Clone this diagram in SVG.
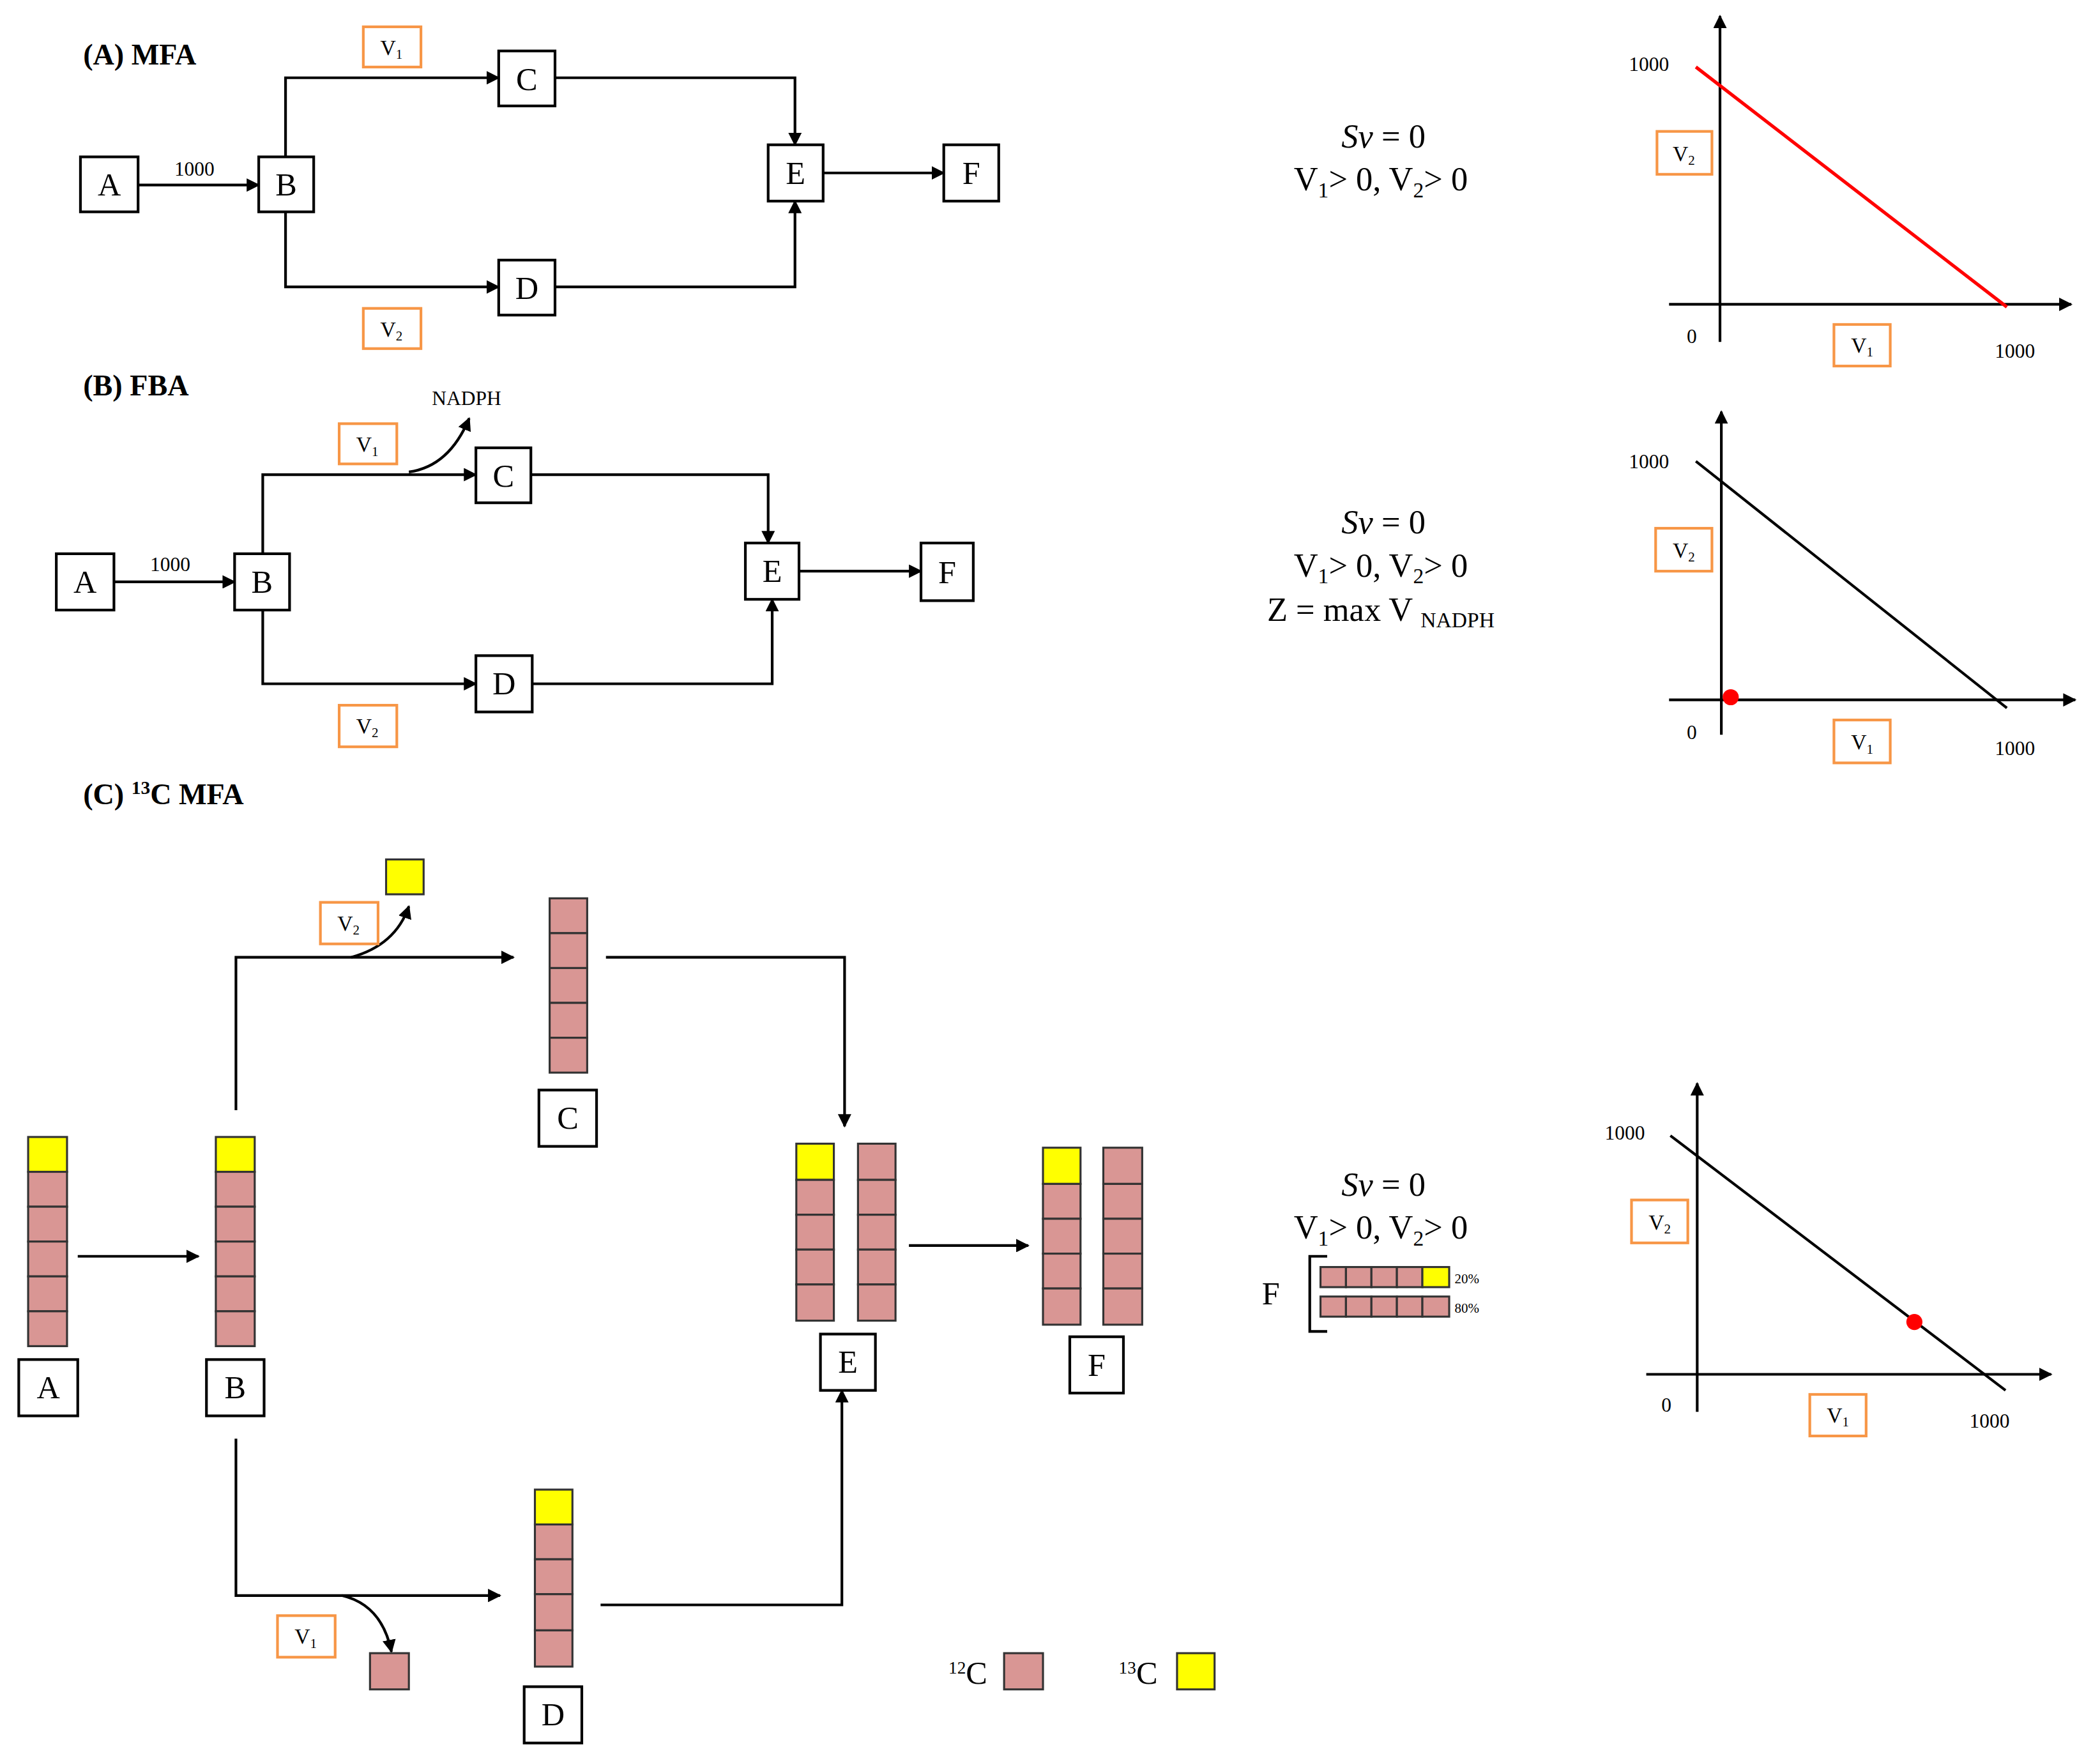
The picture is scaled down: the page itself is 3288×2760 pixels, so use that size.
<svg xmlns="http://www.w3.org/2000/svg" width="3288" height="2760" viewBox="0 0 3288 2760">
<defs>
<marker id="ah2" viewBox="0 0 10 10" refX="9" refY="5" markerWidth="5" markerHeight="5" orient="auto"><path d="M0,0 L10,5 L0,10 Z" fill="#000"/></marker>
<style>
.n{fill:#fff;stroke:#000;stroke-width:2}
.nt{font-family:"Liberation Serif",serif;font-size:24px;text-anchor:middle}
.ob{fill:#fff;stroke:#f79646;stroke-width:2}
.ot{font-family:"Liberation Serif",serif;font-size:16px;text-anchor:middle}
.c{fill:none;stroke:#000;stroke-width:2;marker-end:url(#ah2)}
.ln{fill:none;stroke:#000;stroke-width:2}
.ttl{font-family:"Liberation Serif",serif;font-size:22px;font-weight:bold}
.sm{font-family:"Liberation Serif",serif;font-size:15px}
.eq{font-family:"Liberation Serif",serif;font-size:25px;text-anchor:middle}
.pk{fill:#d99694;stroke:#333;stroke-width:1.5}
.yl{fill:#ffff00;stroke:#333;stroke-width:1.5}
</style>
</defs>
<rect width="3288" height="2760" fill="#fff"/>
<g transform="scale(2.099)">
<g id="titles">
<text class="ttl" x="62" y="48">(A) MFA</text>
<text class="ttl" x="62" y="295">(B) FBA</text>
<text class="ttl" x="62" y="600">(C) <tspan font-size="14" dy="-8">13</tspan><tspan dy="8">C MFA</tspan></text>
</g>
<g id="connectors">
<path class="c" d="M103,138 H193"/>
<path class="c" d="M213,117 V58 H372"/>
<path class="c" d="M213,158 V214 H372"/>
<path class="c" d="M414,58 H593 V108"/>
<path class="c" d="M414,214 H593 V150"/>
<path class="c" d="M614,129 H704"/>
<path class="c" d="M85,434 H175"/>
<path class="c" d="M196,413 V354 H355"/>
<path class="c" d="M196,455 V510 H355"/>
<path class="c" d="M396,354 H573 V405"/>
<path class="c" d="M397,510 H576 V447"/>
<path class="c" d="M596,426 H687"/>
<path class="c" d="M305,352 Q335,348 350,312"/>
<path class="c" d="M58,937 H148"/>
<path class="c" d="M176,828 V714 H383"/>
<path class="c" d="M176,1073 V1190 H373"/>
<path class="c" d="M452,714 H630 V840"/>
<path class="c" d="M448,1197 H628 V1037"/>
<path class="c" d="M678,929 H767"/>
<path class="c" d="M262,714 Q295,705 305,676"/>
<path class="c" d="M255,1190 Q285,1197 292,1232"/>
</g>
<g id="nodes">
<g id="mfaA"><rect class="n" x="60" y="117" width="43" height="41"/><text class="nt" x="81.5" y="146">A</text></g>
<g id="mfaB"><rect class="n" x="193" y="117" width="41" height="41"/><text class="nt" x="213.5" y="146">B</text></g>
<g id="mfaC"><rect class="n" x="372" y="38" width="42" height="41"/><text class="nt" x="393" y="67">C</text></g>
<g id="mfaD"><rect class="n" x="372" y="194" width="42" height="41"/><text class="nt" x="393" y="223">D</text></g>
<g id="mfaE"><rect class="n" x="573" y="108" width="41" height="42"/><text class="nt" x="593.5" y="137">E</text></g>
<g id="mfaF"><rect class="n" x="704" y="108" width="41" height="42"/><text class="nt" x="724.5" y="137">F</text></g>
<text class="sm" x="145" y="131" text-anchor="middle">1000</text>
<g id="mfaV1"><rect class="ob" x="271" y="20" width="43" height="30"/><text class="ot" x="292" y="41">V<tspan font-size="10" dy="3">1</tspan></text></g>
<g id="mfaV2"><rect class="ob" x="271" y="230" width="43" height="30"/><text class="ot" x="292" y="251">V<tspan font-size="10" dy="3">2</tspan></text></g>

<g id="fbaA"><rect class="n" x="42" y="413" width="43" height="42"/><text class="nt" x="63.5" y="442">A</text></g>
<g id="fbaB"><rect class="n" x="175" y="413" width="41" height="42"/><text class="nt" x="195.5" y="442">B</text></g>
<g id="fbaC"><rect class="n" x="355" y="334" width="41" height="41"/><text class="nt" x="375.5" y="363">C</text></g>
<g id="fbaD"><rect class="n" x="355" y="489" width="42" height="42"/><text class="nt" x="376" y="518">D</text></g>
<g id="fbaE"><rect class="n" x="556" y="405" width="40" height="42"/><text class="nt" x="576" y="434">E</text></g>
<g id="fbaF"><rect class="n" x="687" y="405" width="39" height="43"/><text class="nt" x="706.5" y="435">F</text></g>
<text class="sm" x="127" y="426" text-anchor="middle">1000</text>
<text class="sm" x="348" y="302" text-anchor="middle">NADPH</text>
<g id="fbaV1"><rect class="ob" x="253" y="316" width="43" height="30"/><text class="ot" x="274" y="337">V<tspan font-size="10" dy="3">1</tspan></text></g>
<g id="fbaV2"><rect class="ob" x="253" y="526" width="43" height="31"/><text class="ot" x="274" y="547">V<tspan font-size="10" dy="3">2</tspan></text></g>

<g id="c13A">
<rect class="yl" x="21" y="848" width="29" height="26"/>
<rect class="pk" x="21" y="874" width="29" height="26"/><rect class="pk" x="21" y="900" width="29" height="26"/><rect class="pk" x="21" y="926" width="29" height="26"/><rect class="pk" x="21" y="952" width="29" height="26"/><rect class="pk" x="21" y="978" width="29" height="26"/>
<rect class="n" x="14" y="1014" width="44" height="42"/><text class="nt" x="36" y="1043">A</text></g>
<g id="c13B">
<rect class="yl" x="161" y="848" width="29" height="26"/>
<rect class="pk" x="161" y="874" width="29" height="26"/><rect class="pk" x="161" y="900" width="29" height="26"/><rect class="pk" x="161" y="926" width="29" height="26"/><rect class="pk" x="161" y="952" width="29" height="26"/><rect class="pk" x="161" y="978" width="29" height="26"/>
<rect class="n" x="154" y="1014" width="43" height="42"/><text class="nt" x="175.5" y="1043">B</text></g>
<g id="c13C">
<rect class="pk" x="410" y="670" width="28" height="26"/><rect class="pk" x="410" y="696" width="28" height="26"/><rect class="pk" x="410" y="722" width="28" height="26"/><rect class="pk" x="410" y="748" width="28" height="26"/><rect class="pk" x="410" y="774" width="28" height="26"/>
<rect class="n" x="402" y="813" width="43" height="42"/><text class="nt" x="423.5" y="842">C</text></g>
<g id="c13D">
<rect class="yl" x="399" y="1111" width="28" height="26"/>
<rect class="pk" x="399" y="1137" width="28" height="26"/><rect class="pk" x="399" y="1163" width="28" height="26"/><rect class="pk" x="399" y="1189" width="28" height="27"/><rect class="pk" x="399" y="1216" width="28" height="27"/>
<rect class="n" x="391" y="1258" width="43" height="42"/><text class="nt" x="412.5" y="1287">D</text></g>
<g id="c13E">
<rect class="yl" x="594" y="853" width="28" height="27"/>
<rect class="pk" x="594" y="880" width="28" height="26"/><rect class="pk" x="594" y="906" width="28" height="26"/><rect class="pk" x="594" y="932" width="28" height="26"/><rect class="pk" x="594" y="958" width="28" height="27"/>
<rect class="pk" x="640" y="853" width="28" height="27"/><rect class="pk" x="640" y="880" width="28" height="26"/><rect class="pk" x="640" y="906" width="28" height="26"/><rect class="pk" x="640" y="932" width="28" height="26"/><rect class="pk" x="640" y="958" width="28" height="27"/>
<rect class="n" x="612" y="995" width="41" height="42"/><text class="nt" x="632.5" y="1024">E</text></g>
<g id="c13F">
<rect class="yl" x="778" y="856" width="28" height="27"/>
<rect class="pk" x="778" y="883" width="28" height="26"/><rect class="pk" x="778" y="909" width="28" height="26"/><rect class="pk" x="778" y="935" width="28" height="26"/><rect class="pk" x="778" y="961" width="28" height="27"/>
<rect class="pk" x="823" y="856" width="29" height="27"/><rect class="pk" x="823" y="883" width="29" height="26"/><rect class="pk" x="823" y="909" width="29" height="26"/><rect class="pk" x="823" y="935" width="29" height="26"/><rect class="pk" x="823" y="961" width="29" height="27"/>
<rect class="n" x="798" y="997" width="40" height="42"/><text class="nt" x="818" y="1026">F</text></g>
<g id="c13V2"><rect class="ob" x="239" y="673" width="43" height="31"/><text class="ot" x="260" y="694">V<tspan font-size="10" dy="3">2</tspan></text></g>
<rect class="yl" x="288" y="641" width="28" height="26"/>
<g id="c13V1"><rect class="ob" x="207" y="1205" width="43" height="31"/><text class="ot" x="228" y="1226">V<tspan font-size="10" dy="3">1</tspan></text></g>
<rect class="pk" x="276" y="1233" width="29" height="27"/>
<g id="legend">
<text class="nt" x="722" y="1256" font-size="22"><tspan font-size="13" dy="-8">12</tspan><tspan dy="8">C</tspan></text>
<rect class="pk" x="749" y="1233" width="29" height="27"/>
<text class="nt" x="849" y="1256" font-size="22"><tspan font-size="13" dy="-8">13</tspan><tspan dy="8">C</tspan></text>
<rect class="yl" x="878" y="1233" width="28" height="27"/>
</g>
</g>
<g id="equations">
<text class="eq" x="1032" y="110"><tspan font-style="italic">Sv</tspan> = 0</text>
<text class="eq" x="1030" y="142">V<tspan font-size="16" dy="5">1</tspan><tspan dy="-5">&gt; 0, V</tspan><tspan font-size="16" dy="5">2</tspan><tspan dy="-5">&gt; 0</tspan></text>
<text class="eq" x="1032" y="398"><tspan font-style="italic">Sv</tspan> = 0</text>
<text class="eq" x="1030" y="430">V<tspan font-size="16" dy="5">1</tspan><tspan dy="-5">&gt; 0, V</tspan><tspan font-size="16" dy="5">2</tspan><tspan dy="-5">&gt; 0</tspan></text>
<text class="eq" x="1030" y="463">Z = max V <tspan font-size="16" dy="5">NADPH</tspan></text>
<text class="eq" x="1032" y="892"><tspan font-style="italic">Sv</tspan> = 0</text>
<text class="eq" x="1030" y="924">V<tspan font-size="16" dy="5">1</tspan><tspan dy="-5">&gt; 0, V</tspan><tspan font-size="16" dy="5">2</tspan><tspan dy="-5">&gt; 0</tspan></text>
<text class="nt" x="948" y="973">F</text>
<path class="ln" d="M990,937 H977 V993 H990"/>
<rect class="pk" x="985" y="945" width="19" height="15"/><rect class="pk" x="1004" y="945" width="19" height="15"/><rect class="pk" x="1023" y="945" width="19" height="15"/><rect class="pk" x="1042" y="945" width="19" height="15"/><rect class="yl" x="1061" y="945" width="20" height="15"/>
<rect class="pk" x="985" y="967" width="19" height="15"/><rect class="pk" x="1004" y="967" width="19" height="15"/><rect class="pk" x="1023" y="967" width="19" height="15"/><rect class="pk" x="1042" y="967" width="19" height="15"/><rect class="pk" x="1061" y="967" width="20" height="15"/>
<text x="1085" y="957" font-family="Liberation Serif,serif" font-size="10">20%</text>
<text x="1085" y="979" font-family="Liberation Serif,serif" font-size="10">80%</text>
</g>
<g id="graphs">
<path class="c" d="M1283,255 V12"/><path class="c" d="M1245,227 H1545"/>
<path d="M1265,50 L1497,229" stroke="#ff0000" stroke-width="2.5"/>
<text class="sm" x="1230" y="53" text-anchor="middle">1000</text><text class="sm" x="1262" y="256" text-anchor="middle">0</text><text class="sm" x="1503" y="267" text-anchor="middle">1000</text>
<rect class="ob" x="1236" y="98" width="41" height="32"/><text class="ot" x="1256" y="120">V<tspan font-size="10" dy="3">2</tspan></text>
<rect class="ob" x="1368" y="242" width="42" height="31"/><text class="ot" x="1389" y="263">V<tspan font-size="10" dy="3">1</tspan></text>

<path class="c" d="M1284,548 V307"/><path class="c" d="M1245,522 H1548"/>
<path class="ln" d="M1265,344 L1497,528"/>
<circle cx="1291" cy="520" r="6" fill="#ff0000"/>
<text class="sm" x="1230" y="349" text-anchor="middle">1000</text><text class="sm" x="1262" y="551" text-anchor="middle">0</text><text class="sm" x="1503" y="563" text-anchor="middle">1000</text>
<rect class="ob" x="1235" y="394" width="42" height="32"/><text class="ot" x="1256" y="416">V<tspan font-size="10" dy="3">2</tspan></text>
<rect class="ob" x="1368" y="537" width="42" height="32"/><text class="ot" x="1389" y="559">V<tspan font-size="10" dy="3">1</tspan></text>

<path class="c" d="M1266,1053 V808"/><path class="c" d="M1228,1025 H1530"/>
<path class="ln" d="M1246,847 L1496,1037"/>
<circle cx="1428" cy="986" r="6" fill="#ff0000"/>
<text class="sm" x="1212" y="850" text-anchor="middle">1000</text><text class="sm" x="1243" y="1053" text-anchor="middle">0</text><text class="sm" x="1484" y="1065" text-anchor="middle">1000</text>
<rect class="ob" x="1217" y="895" width="42" height="32"/><text class="ot" x="1238" y="917">V<tspan font-size="10" dy="3">2</tspan></text>
<rect class="ob" x="1350" y="1040" width="42" height="31"/><text class="ot" x="1371" y="1061">V<tspan font-size="10" dy="3">1</tspan></text>
</g>
</g>
</svg>
